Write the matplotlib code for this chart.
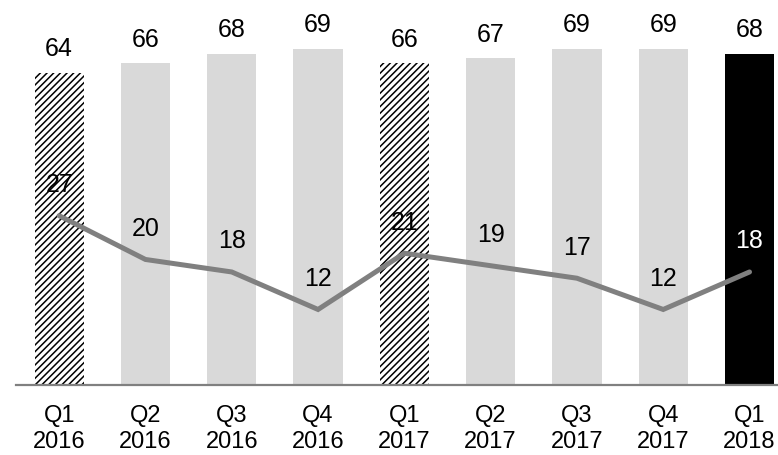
import matplotlib
matplotlib.use("Agg")
import matplotlib.pyplot as plt

plt.rcParams['font.family'] = ['Liberation Sans', 'DejaVu Sans']
plt.rcParams['hatch.linewidth'] = 1.1

quarters = ["Q1\n2016", "Q2\n2016", "Q3\n2016", "Q4\n2016", "Q1\n2017",
            "Q2\n2017", "Q3\n2017", "Q4\n2017", "Q1\n2018"]
bar_values = [64, 66, 68, 69, 66, 67, 69, 69, 68]
line_values = [27, 20, 18, 12, 21, 19, 17, 12, 18]
bar_styles = ["hatch", "gray", "gray", "gray", "hatch", "gray", "gray", "gray", "black"]

W, H = 778, 455
fig = plt.figure(figsize=(W / 100, H / 100), dpi=100)
ax = fig.add_axes([16 / W, 70.5 / H, 762 / W, 384.5 / H])
ax2 = ax.twinx()

x = list(range(len(quarters)))
for xi, v, st in zip(x, bar_values, bar_styles):
    if st == "hatch":
        ax.bar(xi, v, width=0.57, color="white", edgecolor="black",
               hatch="/////", linewidth=0)
    elif st == "black":
        ax.bar(xi, v, width=0.57, color="black", linewidth=0)
    else:
        ax.bar(xi, v, width=0.57, color="#d9d9d9", linewidth=0)
    ax.annotate(str(v), (xi, v), xytext=(0, 17), textcoords="offset points",
                ha="center", va="center", fontsize=18, color="black",
                annotation_clip=False)

ax2.plot(x, line_values, color="#808080", linewidth=3.6, solid_capstyle="round",
         solid_joinstyle="miter", zorder=3)
for xi, v, st in zip(x, line_values, bar_styles):
    ax2.annotate(str(v), (xi, v), xytext=(0, 22), textcoords="offset points",
                 ha="center", va="center", fontsize=18,
                 color="white" if st == "black" else "black")

ax.set_xlim(-0.5, 8.33)
ax.set_ylim(0, 79.0)
ax2.set_ylim(0, 61.5)

ax.set_xticks(x)
ax.set_xticklabels(quarters, fontsize=17, linespacing=1.2)
ax.tick_params(axis="x", length=0, pad=15)
ax.set_yticks([])
ax2.set_yticks([])

for a in (ax, ax2):
    for s in ("top", "right", "left", "bottom"):
        a.spines[s].set_visible(False)
ax.spines["bottom"].set_visible(True)
ax.spines["bottom"].set_color("#808080")
ax.spines["bottom"].set_linewidth(1.6)
ax.set_zorder(0)
ax2.set_zorder(1)
ax2.patch.set_visible(False)

fig.savefig("out.png", dpi=100)
